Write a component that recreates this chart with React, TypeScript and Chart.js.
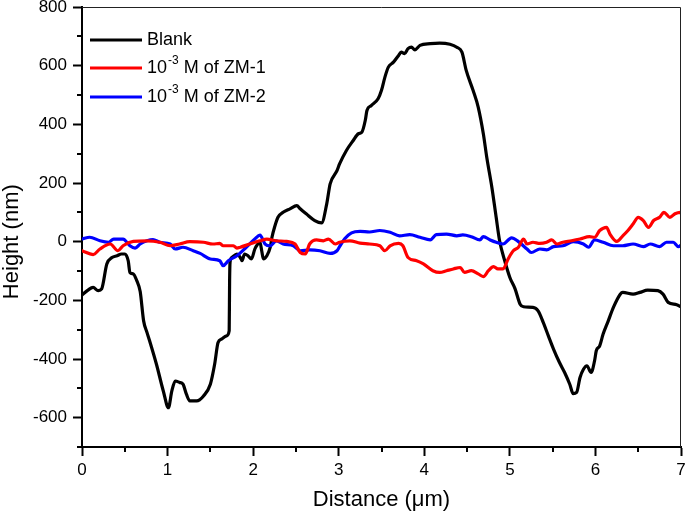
import React, { useEffect, useRef } from 'react';
import { Chart, registerables } from 'chart.js';

Chart.register(...registerables);

const FONT = "'Liberation Sans', Arial, Helvetica, sans-serif";

const blankDistance = [0.00,0.07,0.13,0.19,0.23,0.29,0.35,0.41,0.46,0.50,0.54,0.56,0.60,0.64,0.68,0.72,0.76,0.79,0.87,0.95,1.01,1.05,1.09,1.14,1.18,1.22,1.26,1.34,1.42,1.50,1.55,1.59,1.63,1.69,1.72,1.725,1.73,1.75,1.81,1.85,1.87,1.90,1.94,1.98,2.02,2.04,2.08,2.10,2.12,2.16,2.20,2.22,2.25,2.29,2.35,2.43,2.51,2.55,2.62,2.72,2.80,2.86,2.90,2.98,3.01,3.09,3.17,3.23,3.27,3.31,3.33,3.38,3.46,3.50,3.54,3.58,3.64,3.70,3.73,3.77,3.81,3.85,3.89,3.95,4.07,4.18,4.30,4.38,4.44,4.49,4.57,4.63,4.69,4.73,4.79,4.84,4.88,4.94,5.00,5.06,5.12,5.16,5.27,5.33,5.39,5.45,5.51,5.58,5.64,5.70,5.74,5.78,5.82,5.86,5.90,5.95,5.99,6.01,6.05,6.09,6.15,6.21,6.29,6.32,6.44,6.52,6.61,6.73,6.79,6.85,6.95,7.00];
const blankHeight = [-182,-165,-156,-167,-161,-76,-54,-48,-42,-42,-65,-105,-110,-133,-170,-270,-310,-338,-418,-509,-566,-509,-475,-480,-486,-520,-543,-543,-526,-486,-418,-344,-332,-321,-304,-133,-71,-54,-42,-54,-65,-42,-48,-59,-25,-14,-2,-31,-59,-48,-19,15,49,83,100,112,123,112,95,72,64,129,197,242,265,311,345,368,373,413,447,464,487,516,561,595,612,635,646,641,658,663,654,669,675,677,673,663,646,584,516,459,368,288,185,83,3,-65,-122,-160,-213,-222,-224,-236,-275,-321,-366,-412,-446,-486,-518,-514,-463,-435,-423,-446,-406,-372,-355,-315,-270,-224,-179,-173,-179,-173,-165,-167,-179,-207,-215,-222];

const zm1Distance = [0.00,0.13,0.21,0.33,0.42,0.48,0.60,0.76,0.91,1.03,1.14,1.26,1.42,1.53,1.61,1.65,1.77,1.81,1.85,1.96,2.08,2.16,2.27,2.39,2.49,2.55,2.61,2.66,2.74,2.82,2.88,2.96,3.01,3.13,3.25,3.36,3.48,3.54,3.60,3.70,3.75,3.81,3.91,3.99,4.10,4.18,4.26,4.34,4.42,4.47,4.55,4.63,4.69,4.75,4.81,4.86,4.92,4.98,5.04,5.10,5.16,5.20,5.27,5.35,5.43,5.49,5.55,5.62,5.72,5.82,5.93,5.99,6.05,6.13,6.17,6.25,6.32,6.38,6.44,6.50,6.56,6.62,6.68,6.75,6.80,6.87,6.93,6.99,7.00];
const zm1Height = [-31,-44,-25,-8,-31,-14,1,3,-2,-14,-8,0,-2,-8,-6,-14,-14,-22,-19,-8,3,9,3,1,-8,-37,-42,-8,6,3,9,-8,-2,3,-5,-8,-14,-31,-14,-6,-14,-54,-65,-76,-99,-105,-99,-93,-88,-105,-99,-110,-119,-99,-85,-93,-93,-59,-31,-19,9,-8,-2,-6,-2,6,-8,-2,3,9,17,15,38,49,26,1,20,38,60,83,72,49,72,83,100,83,95,100,98];

const zm2Distance = [0.00,0.09,0.21,0.31,0.37,0.48,0.56,0.62,0.68,0.76,0.83,0.91,1.03,1.09,1.18,1.30,1.38,1.50,1.61,1.65,1.71,1.81,1.92,2.02,2.08,2.14,2.20,2.27,2.35,2.47,2.55,2.66,2.78,2.90,2.98,3.01,3.07,3.15,3.25,3.36,3.48,3.60,3.71,3.83,3.95,4.07,4.14,4.26,4.38,4.45,4.55,4.65,4.69,4.77,4.84,4.92,5.02,5.10,5.20,5.25,5.35,5.43,5.51,5.62,5.74,5.86,5.92,5.99,6.09,6.21,6.32,6.44,6.56,6.64,6.75,6.83,6.91,6.97,7.00];
const zm2Height = [9,15,3,-2,9,9,-14,-22,-8,3,7,-2,-8,-25,-19,-31,-40,-59,-65,-82,-65,-48,-19,9,22,-8,-14,3,-8,-14,-31,-28,-31,-40,-31,-17,10,30,35,33,38,32,20,24,15,6,24,26,20,23,17,6,17,6,-2,-8,13,0,-25,-37,-25,-28,-17,-14,0,-8,-19,6,-2,-14,-14,-8,-17,-8,-17,-2,-2,-17,-12];

const seriesColors = ['#000000', '#ff0000', '#0000ff'];
const legendBase = ['Blank', '10', '10'];
const legendSup = ['', '-3', '-3'];
const legendRest = ['', ' M of ZM-1', ' M of ZM-2'];

const xMajorTicks = [0, 1, 2, 3, 4, 5, 6, 7];
const xMinorTicks = [0.5, 1.5, 2.5, 3.5, 4.5, 5.5, 6.5];
const yMajorTicks = [-600, -400, -200, 0, 200, 400, 600, 800];
const yMinorTicks = [-700, -500, -300, -100, 100, 300, 500, 700];

const xTitle = 'Distance (\u03bcm)';
const yTitle = 'Height (nm)';

const toPoints = (xs: number[], ys: number[]) => xs.map((x, i) => ({ x, y: ys[i] }));

const decorPlugin = {
  id: 'decor',
  afterDraw(chart: any) {
    const { ctx, chartArea: a, scales } = chart;
    ctx.save();
    // top and right frame
    ctx.strokeStyle = '#222';
    ctx.lineWidth = 1;
    ctx.beginPath();
    ctx.moveTo(a.left, a.top + 0.5);
    ctx.lineTo(a.right - 0.5, a.top + 0.5);
    ctx.lineTo(a.right - 0.5, a.bottom);
    ctx.stroke();
    // minor ticks
    ctx.strokeStyle = '#000';
    ctx.lineWidth = 2;
    ctx.beginPath();
    xMinorTicks.forEach((v) => {
      const px = Math.round(scales.x.getPixelForValue(v));
      ctx.moveTo(px, a.bottom);
      ctx.lineTo(px, a.bottom + 5);
    });
    yMinorTicks.forEach((v) => {
      const py = Math.round(scales.y.getPixelForValue(v));
      ctx.moveTo(a.left, py);
      ctx.lineTo(a.left - 5, py);
    });
    ctx.stroke();
    // axis titles
    ctx.fillStyle = '#000';
    ctx.font = `22px ${FONT}`;
    ctx.textAlign = 'center';
    ctx.textBaseline = 'middle';
    ctx.fillText(xTitle, (a.left + a.right) / 2, 500);
    ctx.save();
    ctx.translate(12, scales.y.getPixelForValue(0));
    ctx.rotate(-Math.PI / 2);
    ctx.fillText(yTitle, 0, 0);
    ctx.restore();
    // legend
    const rows = [40, 68, 97];
    ctx.textAlign = 'left';
    seriesColors.forEach((c, i) => {
      const y = rows[i];
      ctx.strokeStyle = c;
      ctx.lineWidth = 3;
      ctx.beginPath();
      ctx.moveTo(90, y);
      ctx.lineTo(142, y);
      ctx.stroke();
      ctx.fillStyle = '#000';
      ctx.font = `18px ${FONT}`;
      ctx.textBaseline = 'middle';
      let x = 147;
      ctx.fillText(legendBase[i], x, y);
      x += ctx.measureText(legendBase[i]).width;
      if (legendSup[i]) {
        ctx.font = `12px ${FONT}`;
        ctx.fillText(legendSup[i], x + 1, y - 7);
        x += ctx.measureText(legendSup[i]).width + 1;
        ctx.font = `18px ${FONT}`;
        ctx.fillText(legendRest[i], x, y);
      }
    });
    ctx.restore();
  },
};

export default function App() {
  const ref = useRef<HTMLCanvasElement | null>(null);
  useEffect(() => {
    if (!ref.current) return;
    const mk = (xs: number[], ys: number[], color: string) => ({
      data: toPoints(xs, ys),
      borderColor: color,
      backgroundColor: color,
      borderWidth: 3.2,
      pointRadius: 0,
      cubicInterpolationMode: 'monotone' as const,
      borderJoinStyle: 'round' as const,
      borderCapStyle: 'round' as const,
    });
    const chart = new Chart(ref.current, {
      type: 'line',
      data: {
        datasets: [
          mk(zm1Distance, zm1Height, seriesColors[1]),
          mk(zm2Distance, zm2Height, seriesColors[2]),
          mk(blankDistance, blankHeight, seriesColors[0]),
        ],
      },
      plugins: [decorPlugin],
      options: {
        responsive: false,
        animation: false,
        layout: { padding: { top: 7, right: 4, bottom: 0, left: 0 } },
        plugins: { legend: { display: false }, tooltip: { enabled: false } },
        scales: {
          x: {
            type: 'linear',
            min: 0,
            max: 7,
            afterBuildTicks: (s: any) => {
              s.ticks = xMajorTicks.map((v) => ({ value: v }));
            },
            afterFit: (s: any) => {
              s.height = 69;
              s.paddingLeft = 0;
              s.paddingRight = 0;
            },
            ticks: {
              color: '#000',
              font: { family: FONT, size: 17 },
              padding: 4,
              maxRotation: 0,
              autoSkip: false,
              callback: (v: any) => String(v),
            },
            grid: { drawOnChartArea: false, tickLength: 9, tickWidth: 2, color: '#000' },
            border: { display: true, color: '#000', width: 2 },
          },
          y: {
            type: 'linear',
            min: -700,
            max: 800,
            afterBuildTicks: (s: any) => {
              s.ticks = yMajorTicks.map((v) => ({ value: v }));
            },
            afterFit: (s: any) => {
              s.width = 82;
              s.paddingTop = 0;
              s.paddingBottom = 0;
            },
            ticks: {
              color: '#000',
              font: { family: FONT, size: 17 },
              padding: 6,
              autoSkip: false,
              callback: (v: any) => String(v),
            },
            grid: { drawOnChartArea: false, tickLength: 9, tickWidth: 2, color: '#000' },
            border: { display: true, color: '#000', width: 2 },
          },
        },
      },
    });
    return () => chart.destroy();
  }, []);
  return (
    <div style={{ position: 'absolute', left: 0, top: 0, width: 685, height: 516, background: '#fff' }}>
      <canvas ref={ref} width={685} height={516} style={{ display: 'block' }} />
    </div>
  );
}
